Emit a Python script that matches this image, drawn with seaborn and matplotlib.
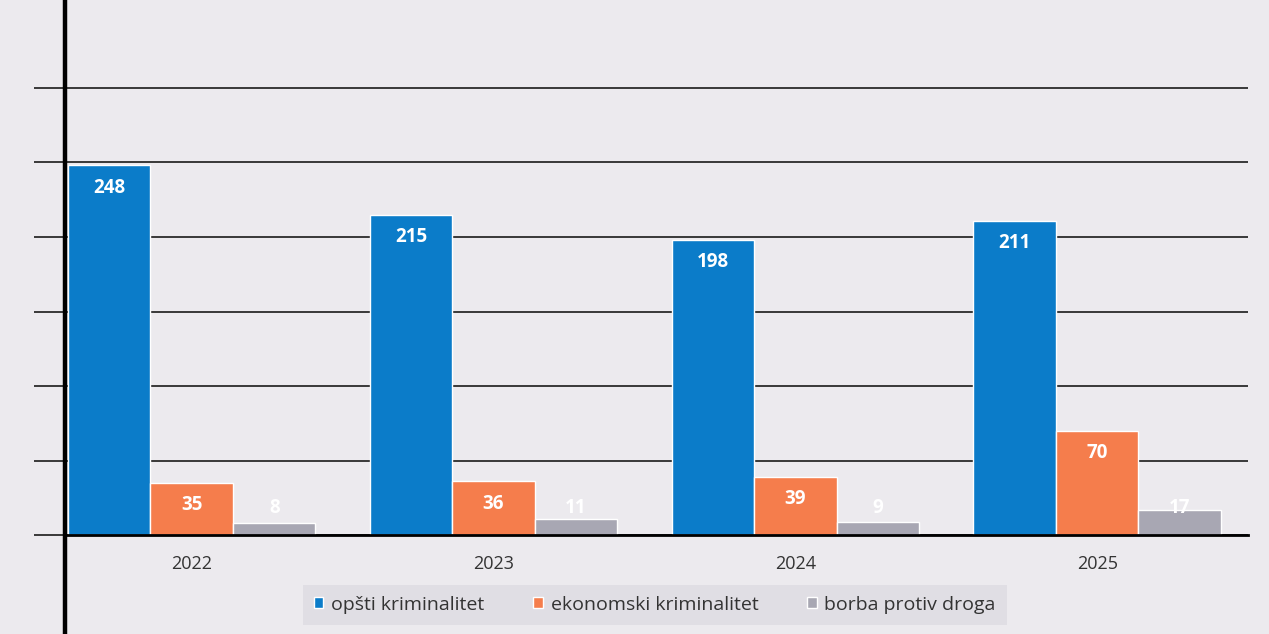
import matplotlib
matplotlib.use("Agg")
import matplotlib.pyplot as plt
import seaborn as sns
import pandas as pd

# data
years = ["2022", "2023", "2024", "2025"]
categories = ["opšti kriminalitet", "ekonomski kriminalitet", "borba protiv droga"]
opsti = [248, 215, 198, 211]
ekonomski = [35, 36, 39, 70]
droga = [8, 11, 9, 17]
colors = ["#0b7cc9", "#f57d4c", "#a8a7b3"]

rows = []
for cat, vals in zip(categories, [opsti, ekonomski, droga]):
    for yr, v in zip(years, vals):
        rows.append({"year": yr, "category": cat, "value": v})
df = pd.DataFrame(rows)

sns.set_theme(style="white")
plt.rcParams["font.family"] = ["Open Sans", "DejaVu Sans"]

bg = "#eceaee"
fig = plt.figure(figsize=(12.69, 6.34), dpi=100, facecolor=bg)
ax = fig.add_axes([0.0512, 0.156, 0.9323, 0.844])
ax.set_facecolor(bg)

sns.barplot(data=df, x="year", y="value", hue="category", hue_order=categories,
            palette=colors, width=0.82, saturation=1, ax=ax, legend=True)

ax.set_ylim(0, 359)
ax.set_xlim(-0.42, 3.5)
ax.set_yticks(range(0, 301, 50))
ax.set_yticklabels([])
ax.yaxis.grid(True, color="#2b2b2b", linewidth=1.3)
ax.set_axisbelow(True)
ax.tick_params(axis="y", length=22, width=1.3, color="#2b2b2b", left=True)
ax.tick_params(axis="x", length=0, pad=14, labelsize=13, labelcolor="#333333")
ax.set_xlabel("")
ax.set_ylabel("")
for s in ["top", "right", "left"]:
    ax.spines[s].set_visible(False)
ax.spines["bottom"].set_color("black")
ax.spines["bottom"].set_linewidth(2)

# left axis line running down past the baseline
ax.plot([0, 0], [-0.2, 1], transform=ax.transAxes, clip_on=False,
        color="black", linewidth=3.2, zorder=5)

# value labels, white bold near the bar top
for cont in ax.containers:
    for bar in cont:
        v = bar.get_height()
        xc = bar.get_x() + bar.get_width() / 2
        ax.text(xc, max(v - 15, 18), f"{v:.0f}", ha="center", va="center",
                color="white", fontweight="bold", fontsize=13.5)

leg = ax.legend(loc="center", bbox_to_anchor=(0.516, 0.046),
                bbox_transform=fig.transFigure, ncol=3, frameon=True,
                facecolor="#dddce2", edgecolor="none", fancybox=False,
                handlelength=0.5, handleheight=0.5, handletextpad=0.4,
                columnspacing=2.5, fontsize=14, borderpad=0.55)
for t in leg.get_texts():
    t.set_color("#333333")

fig.savefig("out.png", dpi=100, facecolor=bg)
